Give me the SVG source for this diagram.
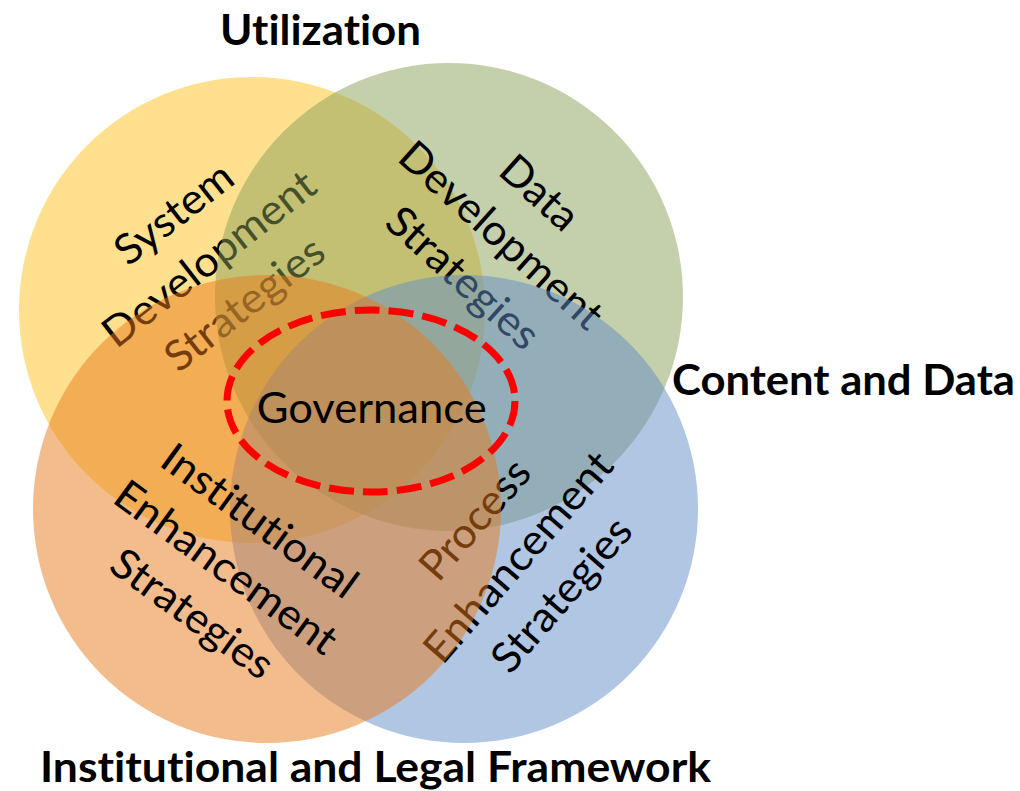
<svg xmlns="http://www.w3.org/2000/svg" width="1020" height="791" viewBox="0 0 1020 791">
<style>
.c{fill-opacity:0.5;stroke:none}
.t{font-family:Lato,"Open Sans","Liberation Sans",sans-serif;font-size:42px;fill:#000;text-anchor:middle;font-variant-ligatures:none}
.b{font-family:Lato,"Open Sans","Liberation Sans",sans-serif;font-size:42px;font-weight:700;fill:#000;font-variant-ligatures:none}
.gov{fill:none;stroke:#FF0000;stroke-width:7;stroke-dasharray:25 9}
</style>
<rect width="1020" height="791" fill="#ffffff"/>
<g id="circle-utilization"><circle class="c" cx="252" cy="310" r="233" fill="#FFC11D"/></g>
<g id="label-system" class="t">
<text transform="translate(182.7,224.8) rotate(-38)" textLength="138" lengthAdjust="spacingAndGlyphs">System</text>
<text transform="translate(218,270) rotate(-38)" textLength="258" lengthAdjust="spacingAndGlyphs">Development</text>
<text transform="translate(253.3,315.2) rotate(-38)" textLength="190" lengthAdjust="spacingAndGlyphs">Strategies</text>
</g>
<g id="circle-content"><circle class="c" cx="449" cy="297" r="234" fill="#899F57"/></g>
<g id="label-data" class="t">
<text transform="translate(529.9,203.4) rotate(42)" textLength="90" lengthAdjust="spacingAndGlyphs">Data</text>
<text transform="translate(491.6,246) rotate(42)" textLength="258" lengthAdjust="spacingAndGlyphs">Development</text>
<text transform="translate(453.3,288.6) rotate(42)" textLength="190" lengthAdjust="spacingAndGlyphs">Strategies</text>
</g>
<g id="circle-process"><circle class="c" cx="464" cy="509" r="234" fill="#618DC5"/></g>
<g id="label-process" class="t">
<text transform="translate(485.7,528.9) rotate(-49)" textLength="145" lengthAdjust="spacingAndGlyphs">Process</text>
<text transform="translate(529,566.5) rotate(-49)" textLength="264" lengthAdjust="spacingAndGlyphs">Enhancement</text>
<text transform="translate(572.3,604.1) rotate(-49)" textLength="190" lengthAdjust="spacingAndGlyphs">Strategies</text>
</g>
<g id="circle-institutional"><circle class="c" cx="267" cy="509" r="234" fill="#E7791B"/></g>
<g id="label-institutional" class="t">
<text transform="translate(251.2,532.6) rotate(36)" textLength="231" lengthAdjust="spacingAndGlyphs">Institutional</text>
<text transform="translate(217.5,579) rotate(36)" textLength="264" lengthAdjust="spacingAndGlyphs">Enhancement</text>
<text transform="translate(183.8,625.4) rotate(36)" textLength="190" lengthAdjust="spacingAndGlyphs">Strategies</text>
</g>
<g id="governance">
<text class="t" x="371.7" y="423" textLength="230" lengthAdjust="spacingAndGlyphs">Governance</text>
<ellipse class="gov" cx="371" cy="401" rx="144" ry="91"/>
</g>
<g id="titles">
<text class="b" x="220" y="45" textLength="201" lengthAdjust="spacingAndGlyphs">Utilization</text>
<text class="b" x="672" y="395" textLength="343" lengthAdjust="spacingAndGlyphs">Content and Data</text>
<text class="b" x="40" y="782" textLength="671" lengthAdjust="spacingAndGlyphs">Institutional and Legal Framework</text>
</g>
</svg>
